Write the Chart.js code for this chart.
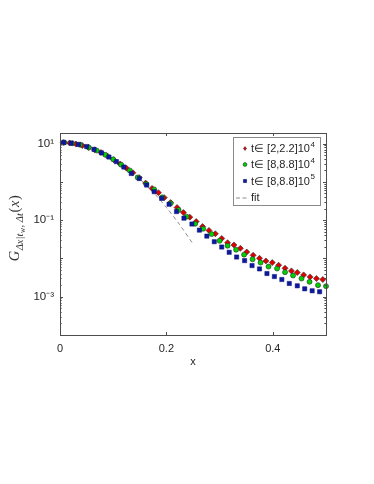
<!DOCTYPE html>
<html>
<head>
<meta charset="utf-8">
<style>
html, body { margin: 0; padding: 0; background: #fff; }
</style>
</head>
<body>
<canvas id="chart" width="374" height="484"></canvas>
<script src="https://cdn.jsdelivr.net/npm/chart.js@4.4.1/dist/chart.umd.min.js"></script>
<script>
// t in [2,2.2]10^4 (red diamonds)
const redX = [0.006, 0.018, 0.030, 0.042, 0.054, 0.065, 0.077, 0.089, 0.101, 0.113, 0.125, 0.137, 0.149, 0.161,
  0.173, 0.185, 0.196, 0.208, 0.220, 0.232, 0.244, 0.256, 0.268, 0.280, 0.292, 0.304, 0.315, 0.327,
  0.339, 0.351, 0.363, 0.375, 0.387, 0.399, 0.411, 0.423, 0.435, 0.446, 0.458, 0.470, 0.482, 0.494];
const redY = [10.72, 10.47, 9.77, 8.91, 7.94, 6.92, 5.89, 4.79, 3.80, 2.95, 2.29, 1.74, 1.29, 0.933,
  0.678, 0.524, 0.388, 0.288, 0.214, 0.158, 0.120, 0.0923, 0.0684, 0.0540, 0.0442, 0.0334, 0.0258, 0.0224,
  0.0184, 0.0148, 0.0121, 0.0101, 0.00861, 0.00780, 0.00665, 0.00556, 0.00473, 0.00429, 0.00372, 0.00330, 0.00299, 0.00282];

// t in [8,8.8]10^4 (green circles)
const greenX = [0.008, 0.023, 0.038, 0.054, 0.069, 0.085, 0.100, 0.115, 0.131, 0.146, 0.162, 0.177, 0.192,
  0.208, 0.223, 0.238, 0.254, 0.269, 0.285, 0.300, 0.315, 0.331, 0.346, 0.362, 0.377, 0.392, 0.408,
  0.423, 0.438, 0.454, 0.469, 0.485, 0.500];
const greenY = [10.72, 10.23, 9.33, 7.94, 6.61, 5.13, 3.89, 2.82, 2.00, 1.31, 0.879, 0.638, 0.395,
  0.277, 0.185, 0.124, 0.0804, 0.0596, 0.0433, 0.0290, 0.0215, 0.0169, 0.0126, 0.0095, 0.00780, 0.00614, 0.00545,
  0.00438, 0.00358, 0.00299, 0.00245, 0.00201, 0.00189];

// t in [8,8.8]10^5 (blue squares)
const blueX = [0.007, 0.021, 0.035, 0.050, 0.064, 0.078, 0.092, 0.106, 0.120, 0.134, 0.149, 0.163, 0.177,
  0.191, 0.205, 0.219, 0.233, 0.248, 0.262, 0.276, 0.290, 0.304, 0.318, 0.332, 0.347, 0.361, 0.375,
  0.389, 0.403, 0.417, 0.431, 0.446, 0.460, 0.474, 0.488];
const blueY = [10.72, 10.35, 9.55, 8.41, 7.08, 5.75, 4.47, 3.39, 2.45, 1.66, 1.23, 0.828, 0.556,
  0.372, 0.261, 0.168, 0.113, 0.0794, 0.0550, 0.0384, 0.0274, 0.0199, 0.0145, 0.0109, 0.00879, 0.00652, 0.00533,
  0.00404, 0.00337, 0.00282, 0.00222, 0.00193, 0.00161, 0.00143, 0.00135];

// gaussian fit (dashed)
const fitX = [0, 0.025, 0.05, 0.075, 0.1, 0.125, 0.15, 0.175, 0.2, 0.225, 0.25];
const fitY = [10.7, 10.1, 8.4, 6.2, 4.04, 2.33, 1.19, 0.54, 0.216, 0.076, 0.024];

const legendLabels = [
  ['t\u2208 [2,2.2]10', '4'],
  ['t\u2208 [8,8.8]10', '4'],
  ['t\u2208 [8,8.8]10', '5'],
  ['fit', '']
];
const yLabeled = [1, -1, -3];
const supDigits = { '-': '\u207B', '1': '\u00B9', '3': '\u00B3' };

const FONT = "'Liberation Sans', Arial, sans-serif";
const TXT = '#262626';

function toPoints(xs, ys) {
  return xs.map((x, i) => ({ x: x, y: ys[i] }));
}

function isDecade(v) {
  const l = Math.log10(v);
  return Math.abs(l - Math.round(l)) < 1e-6;
}

function drawMarker(ctx, style, x, y, r) {
  ctx.beginPath();
  if (style === 'rectRot') {
    ctx.moveTo(x, y - r); ctx.lineTo(x + r * 0.8, y); ctx.lineTo(x, y + r); ctx.lineTo(x - r * 0.8, y);
    ctx.closePath();
  } else if (style === 'rect') {
    const s = r * Math.SQRT1_2;
    ctx.rect(x - s, y - s, 2 * s, 2 * s);
  } else {
    ctx.arc(x, y, r, 0, Math.PI * 2);
  }
  ctx.fill();
  ctx.stroke();
}

const axesBox = {
  id: 'axesBox',
  afterDatasetsDraw(chart) {
    const { ctx, chartArea: ca, scales } = chart;
    ctx.save();
    ctx.strokeStyle = '#4d4d4d';
    ctx.lineWidth = 1;
    // inward ticks
    ctx.beginPath();
    scales.x.ticks.forEach(t => {
      const px = Math.round(scales.x.getPixelForValue(t.value)) + 0.5;
      ctx.moveTo(px, ca.bottom); ctx.lineTo(px, ca.bottom - 3);
      ctx.moveTo(px, ca.top); ctx.lineTo(px, ca.top + 3);
    });
    scales.y.ticks.forEach(t => {
      const v = t.value;
      const sig = v / Math.pow(10, Math.floor(Math.log10(v) + 1e-9));
      if (Math.abs(sig - Math.round(sig)) > 1e-6) return;
      const py = Math.round(scales.y.getPixelForValue(v)) + 0.5;
      if (py < ca.top + 1 || py > ca.bottom - 1) return;
      const len = isDecade(v) ? 3 : 1.6;
      ctx.moveTo(ca.left, py); ctx.lineTo(ca.left + len, py);
      ctx.moveTo(ca.right, py); ctx.lineTo(ca.right - len, py);
    });
    ctx.stroke();
    ctx.strokeRect(Math.round(ca.left) + 0.5, Math.round(ca.top) + 0.5,
      Math.round(ca.right - ca.left), Math.round(ca.bottom - ca.top));

    // legend
    const lx = 233, ly = 137, lw = 87, lh = 68;
    ctx.fillStyle = '#fff';
    ctx.fillRect(lx, ly, lw, lh);
    ctx.strokeStyle = '#8a8a8a';
    ctx.strokeRect(lx + 0.5, ly + 0.5, lw, lh);
    const rowsY = [148.5, 164.5, 181, 197.5];
    chart.data.datasets.forEach((ds, i) => {
      const yy = rowsY[i];
      if (ds.showLine) {
        ctx.strokeStyle = ds.borderColor;
        ctx.lineWidth = 1;
        ctx.setLineDash([4, 2.5]);
        ctx.beginPath(); ctx.moveTo(236, yy + 0.5); ctx.lineTo(249, yy + 0.5); ctx.stroke();
        ctx.setLineDash([]);
      } else {
        ctx.fillStyle = ds.backgroundColor;
        ctx.strokeStyle = ds.borderColor;
        ctx.lineWidth = 0.6;
        drawMarker(ctx, ds.pointStyle, 245, yy, ds.pointStyle === 'rect' ? 2.2 : 1.9);
      }
      const [main, sup] = legendLabels[i];
      ctx.fillStyle = TXT;
      ctx.textBaseline = 'middle';
      ctx.textAlign = 'left';
      ctx.font = '11px ' + FONT;
      ctx.fillText(main, 251, yy + 0.5);
      if (sup) {
        const w = ctx.measureText(main).width;
        ctx.font = '8px ' + FONT;
        ctx.fillText(sup, 251 + w + 0.5, yy - 4);
      }
    });

    // y axis title  G_{dx|t_w, dt}(x)
    ctx.translate(14, 228);
    ctx.rotate(-Math.PI / 2);
    const parts = [
      ['italic 14.5px "Liberation Serif", serif', 'G', 0],
      ['italic 10.5px "Liberation Serif", serif', '\u0394x|t', 3.5],
      ['italic 7.5px "Liberation Serif", serif', 'w', 5.5],
      ['italic 10.5px "Liberation Serif", serif', ', \u0394t', 3.5],
      ['14.5px "Liberation Serif", serif', '(', 0],
      ['italic 14.5px "Liberation Serif", serif', 'x', 0],
      ['14.5px "Liberation Serif", serif', ')', 0]
    ];
    let total = 0;
    parts.forEach(p => { ctx.font = p[0]; total += ctx.measureText(p[1]).width + 0.6; });
    let cx = -total / 2;
    ctx.fillStyle = '#333';
    ctx.textBaseline = 'alphabetic';
    parts.forEach(p => {
      ctx.font = p[0];
      ctx.fillText(p[1], cx, 5 + p[2]);
      cx += ctx.measureText(p[1]).width + 0.6;
    });
    ctx.restore();
  }
};

const markerBorder = '#2a2a2a';

new Chart(document.getElementById('chart'), {
  type: 'scatter',
  data: {
    datasets: [
      {
        label: 't\u2208 [2,2.2]10^4',
        data: toPoints(redX, redY),
        pointStyle: 'rectRot',
        pointRadius: 3,
        backgroundColor: '#e00000',
        borderColor: markerBorder,
        borderWidth: 0.6,
        clip: false,
        order: 3
      },
      {
        label: 't\u2208 [8,8.8]10^4',
        data: toPoints(greenX, greenY),
        pointStyle: 'circle',
        pointRadius: 2.5,
        backgroundColor: '#00d200',
        borderColor: markerBorder,
        borderWidth: 0.6,
        clip: false,
        order: 2
      },
      {
        label: 't\u2208 [8,8.8]10^5',
        data: toPoints(blueX, blueY),
        pointStyle: 'rect',
        pointRadius: 3,
        backgroundColor: '#0a1aa0',
        borderColor: '#0a0f70',
        borderWidth: 0.5,
        clip: false,
        order: 1
      },
      {
        label: 'fit',
        data: toPoints(fitX, fitY),
        showLine: true,
        pointRadius: 0,
        borderColor: '#8c8c8c',
        borderWidth: 1,
        borderDash: [4, 3],
        tension: 0.3,
        backgroundColor: 'transparent',
        order: 4
      }
    ]
  },
  options: {
    responsive: false,
    animation: false,
    layout: { padding: { top: 133, right: 48, bottom: 112, left: 0 } },
    plugins: {
      legend: { display: false },
      tooltip: { enabled: false }
    },
    scales: {
      x: {
        type: 'linear',
        min: 0,
        max: 0.5,
        afterFit: s => { s.height = 37; },
        grid: { display: false, drawTicks: false },
        border: { display: false },
        ticks: {
          stepSize: 0.2,
          includeBounds: false,
          padding: 7,
          color: TXT,
          font: { family: FONT, size: 11 }
        },
        title: {
          display: true,
          text: 'x',
          color: TXT,
          padding: { top: 0, bottom: 3 },
          font: { family: FONT, size: 11 }
        }
      },
      y: {
        type: 'logarithmic',
        min: 1e-4,
        max: 19,
        afterFit: s => { s.width = 60; },
        grid: { display: false, drawTicks: false },
        border: { display: false },
        ticks: {
          autoSkip: false,
          padding: 6,
          color: TXT,
          font: { family: FONT, size: 11.5 },
          callback: v => {
            if (!isDecade(v)) return '';
            const e = Math.round(Math.log10(v));
            if (!yLabeled.includes(e)) return '';
            return '10' + String(e).split('').map(c => supDigits[c]).join('');
          }
        }
      }
    }
  },
  plugins: [axesBox]
});
</script>
</body>
</html>
